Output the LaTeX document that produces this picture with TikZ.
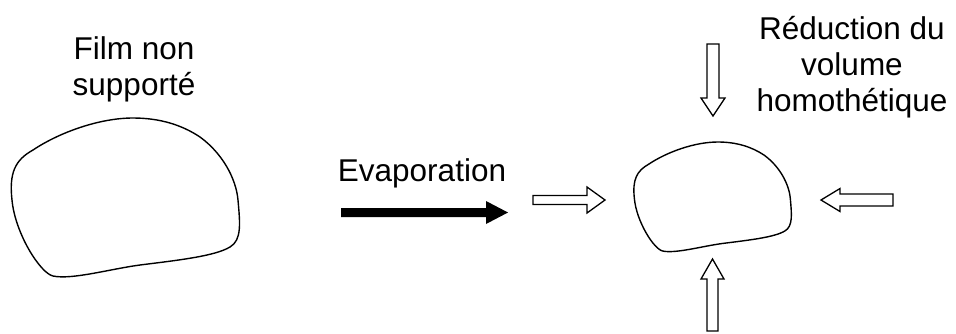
\documentclass[tikz,border=0pt]{standalone}
\usepackage{fontspec}
\setmainfont{Liberation Sans}
\newcommand\myblobpath{(123,0) .. controls (150,0) and (172,7) .. (190,19)
  .. controls (212,35) and (226,60) .. (228,82)
  .. controls (230,105) and (232,122) .. (220,129)
  .. controls (205,138) and (170,142) .. (130,147)
  .. controls (100,151) and (62,162) .. (43,158)
  .. controls (30,155) and (5,115) .. (2,82)
  .. controls (-1,55) and (5,42) .. (23,32)
  .. controls (50,14) and (90,0) .. (123,0) -- cycle}
\begin{document}
\begin{tikzpicture}[x=1pt,y=-1pt,
  lbl/.style={align=center,inner sep=0pt,font=\fontsize{31.5}{36}\selectfont},
  outl/.style={draw=black,line width=1.4pt,line join=round},
  blockarrow/.style={draw=black,fill=white,line width=1.3pt,line join=miter},
  solidarrow/.style={fill=black,draw=none}]
\useasboundingbox (0,0) rectangle (956,333);
% blobs
\begin{scope}[shift={(10,118)}]
\draw[outl] \myblobpath;
\coordinate (filmA) at (115,80);
\end{scope}
\begin{scope}[shift={(633,142)},scale=0.69]
\draw[outl] \myblobpath;
\coordinate (filmB) at (115,80);
\end{scope}
% labels
\node[lbl] (film) at (134,69) {Film non\\support\'e};
\node[lbl] (evap) at (422,173) {Evaporation};
\node[lbl] (red) at (852,67) {R\'eduction du\\volume\\homoth\'etique};
% solid arrow
\draw[solidarrow] (341,208) -- (486,208) -- (486,201) -- (508,212.5) -- (486,224) -- (486,217) -- (341,217) -- cycle;
% open arrows
\draw[blockarrow] (533,195.5) -- (587,195.5) -- (587,187) -- (605,200) -- (587,213) -- (587,204.5) -- (533,204.5) -- cycle;
\draw[blockarrow] (893,194) -- (840,194) -- (840,188.5) -- (821,200) -- (840,211.5) -- (840,206) -- (893,206) -- cycle;
\draw[blockarrow] (707,44) -- (719,44) -- (719,98) -- (725,98) -- (713,116) -- (701,98) -- (707,98) -- cycle;
\draw[blockarrow] (707,331) -- (718,331) -- (718,279) -- (724,279) -- (712.5,259) -- (701,279) -- (707,279) -- cycle;
\end{tikzpicture}
\end{document}
